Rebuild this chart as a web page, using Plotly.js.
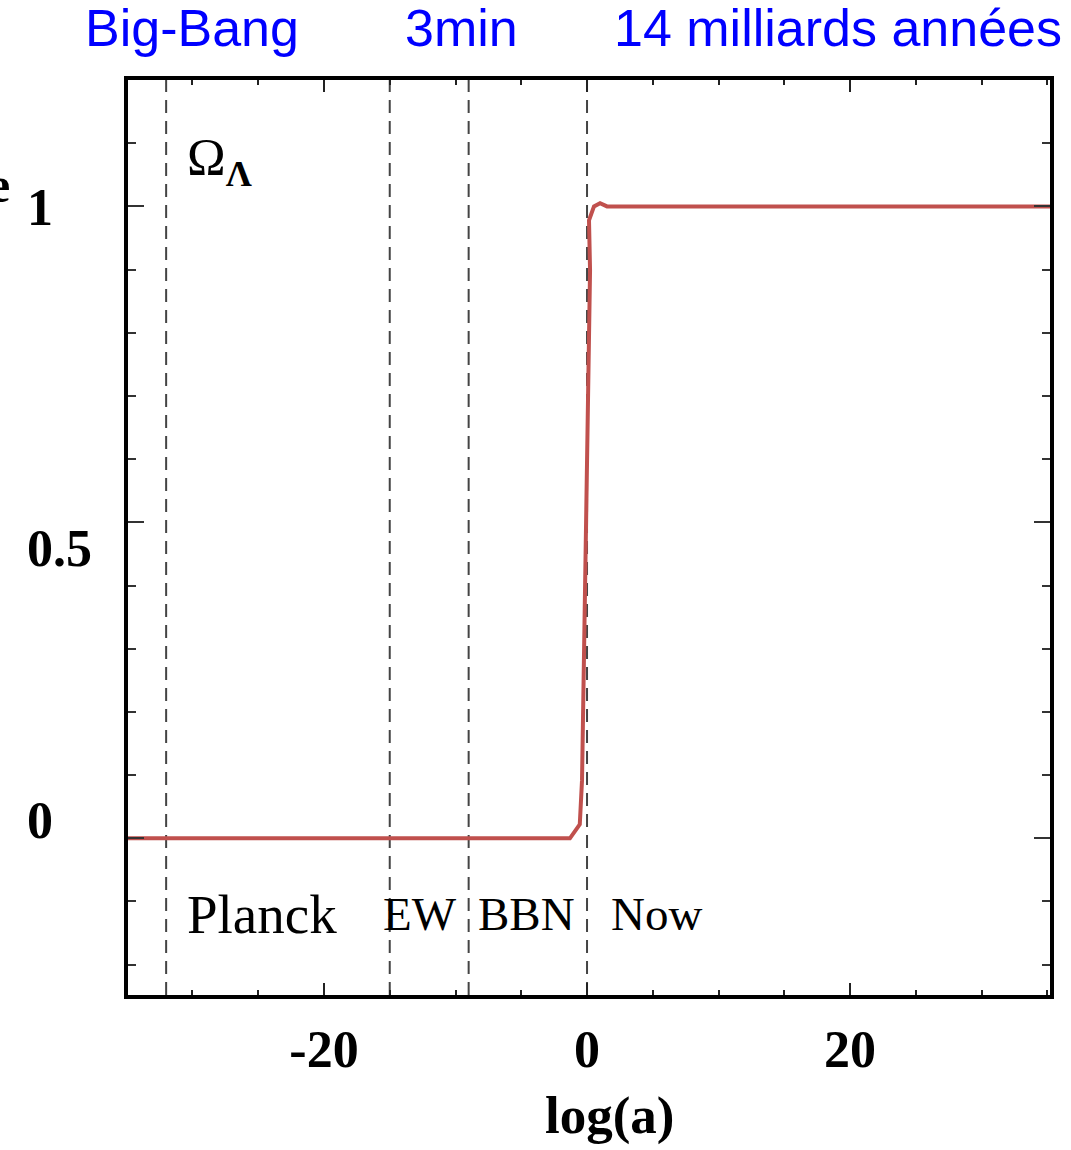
<!DOCTYPE html>
<html>
<head>
<meta charset="utf-8">
<script src="https://cdn.plot.ly/plotly-3.0.1.min.js"></script>
<style>html,body{margin:0;padding:0;background:#fff;}#chart{width:1071px;height:1150px;}</style>
</head>
<body>
<div id="chart"></div>
<script>
// ---- data ----
const logA = [-34.9, -1.3, -0.55, -0.38, 0.23, 0.15, 0.53, 0.99, 1.52, 35.2];
const omegaLambda = [0, 0, 0.022, 0.092, 0.899, 0.978, 1.0, 1.005, 1.0, 1.0];
const epochX = [-32, -15, -9, 0];
const epochLabels = ['Planck', 'EW', 'BBN', 'Now'];
const timeLabels = ['Big-Bang', '3min', '14 milliards années'];
const xTickVals = [-20, 0, 20];
const xTickText = ['-20', '0', '20'];
const yTickVals = [1, 0.5, 0];
const yTickText = ['1', '0.5', '0'];

const serif = 'Liberation Serif, Times New Roman, serif';
const sans = 'Liberation Sans, Arial, sans-serif';

const trace = {
  x: logA, y: omegaLambda, mode: 'lines', type: 'scatter',
  line: {color: '#c0504d', width: 4, shape: 'linear'},
  hoverinfo: 'skip', showlegend: false
};

const shapes = epochX.map(v => ({
  type: 'line', xref: 'x', yref: 'paper', x0: v, x1: v, y0: 0, y1: 1,
  line: {color: '#444', width: 2, dash: '13px,8px'}, layer: 'below'
}));

const annotations = [];
// epoch labels (inside plot, bottom)
const epochPos = [0.0618, 0.274, 0.377, 0.522];
const epochSize = [55, 47, 47, 47];
epochLabels.forEach((t, i) => annotations.push({
  text: t, xref: 'paper', yref: 'paper', x: epochPos[i], y: 0.088,
  xanchor: 'left', yanchor: 'middle', showarrow: false,
  font: {family: serif, size: epochSize[i], color: '#000'}
}));
// top time labels
const timePos = [0.0694, 0.362, 0.770];
timeLabels.forEach((t, i) => annotations.push({
  text: t, xref: 'paper', yref: 'paper', x: timePos[i], y: 1.057,
  xanchor: 'center', yanchor: 'middle', showarrow: false,
  font: {family: sans, size: 52, color: '#0000ff'}
}));
// y tick labels (left aligned as in the original)
const yLabPos = [0.861, 0.4885, 0.191];
yTickText.forEach((t, i) => annotations.push({
  text: t, xref: 'paper', yref: 'paper', x: -0.112, y: yLabPos[i],
  xanchor: 'left', yanchor: 'middle', showarrow: false,
  font: {family: serif, size: 52, color: '#000', weight: 'bold'}
}));
// Omega_Lambda label
annotations.push({
  text: 'Ω<sub><b>Λ</b></sub>', xref: 'paper', yref: 'paper', x: 0.062, y: 0.911,
  xanchor: 'left', yanchor: 'middle', showarrow: false,
  font: {family: serif, size: 52, color: '#000'}
});
// cut-off letter at left edge
annotations.push({
  text: 'e', xref: 'paper', yref: 'paper', x: -0.126, y: 0.885,
  xanchor: 'right', yanchor: 'middle', showarrow: false,
  font: {family: serif, size: 50, color: '#000', weight: 'bold'}
});
// x axis title
annotations.push({
  text: 'log(a)', xref: 'paper', yref: 'paper', x: 0.523, y: -0.1322,
  xanchor: 'center', yanchor: 'middle', showarrow: false,
  font: {family: serif, size: 53, color: '#000', weight: 'bold'}
});

const layout = {
  width: 1071, height: 1150,
  margin: {l: 128, r: 21, t: 80, b: 155},
  paper_bgcolor: '#fff', plot_bgcolor: '#fff',
  showlegend: false,
  xaxis: {
    range: [-34.9, 35.2], showgrid: false, zeroline: false,
    showline: true, linecolor: '#000', linewidth: 4, mirror: 'ticks',
    ticks: 'inside', ticklen: 12, tickwidth: 2, tickcolor: '#222',
    tickvals: xTickVals, ticktext: xTickText,
    tickfont: {family: serif, size: 52, color: '#000', weight: 'bold'},
    ticklabelstandoff: 6,
    minor: {dtick: 5, tick0: 0, ticks: 'inside', ticklen: 5, tickwidth: 2, tickcolor: '#222', showgrid: false}
  },
  yaxis: {
    range: [-0.248, 1.2], showgrid: false, zeroline: false,
    showline: true, linecolor: '#000', linewidth: 4, mirror: 'ticks',
    ticks: 'inside', ticklen: 16, tickwidth: 2, tickcolor: '#333',
    tickvals: yTickVals, showticklabels: false,
    minor: {dtick: 0.1, tick0: 0, ticks: 'inside', ticklen: 8, tickwidth: 2, tickcolor: '#333', showgrid: false}
  },
  shapes: shapes,
  annotations: annotations
};

Plotly.newPlot('chart', [trace], layout, {displayModeBar: false, staticPlot: true});
</script>
</body>
</html>
